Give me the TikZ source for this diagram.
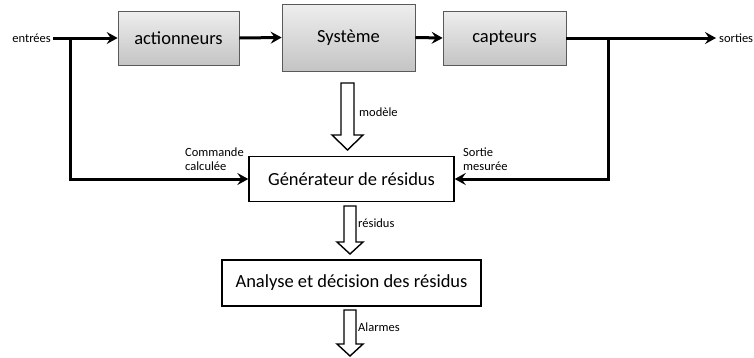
\documentclass[tikz,border=0pt]{standalone}
\usepackage{fontspec}
\setmainfont{Carlito}
\usetikzlibrary{arrows.meta}
\begin{document}
\begin{tikzpicture}[x=1pt,y=-1pt,
  graybox/.style={draw={rgb,255:red,90;green,90;blue,90}, line width=0.7pt,
    top color={rgb,255:red,238;green,238;blue,238},
    bottom color={rgb,255:red,196;green,196;blue,196},
    inner sep=0pt, font=\fontsize{18.5}{20}\selectfont},
  whitebox/.style={draw=black, line width=1.4pt, fill=white, inner sep=0pt,
    font=\fontsize{18.5}{20}\selectfont},
  small/.style={font=\fontsize{12.5}{14}\selectfont, inner sep=0pt},
  flow/.style={line width=3pt, -{Stealth[length=11pt,width=12pt,inset=4pt]}},
  hollow/.style={draw=black, line width=1.4pt, fill=white, line join=miter}]
\useasboundingbox (0,0) rectangle (754,357);

% process chain
\node[graybox, minimum width=121pt, minimum height=54pt] (act) at (178.5,38) {actionneurs};
\node[graybox, minimum width=133pt, minimum height=67pt] (sys) at (348.5,37.5) {Système};
\node[graybox, minimum width=123pt, minimum height=54pt] (cap) at (504.5,38) {capteurs};
\node[small, anchor=east] (in) at (51,38) {entrées};
\node[small, anchor=west] (out) at (719,38) {sorties};

% diagnosis blocks
\node[whitebox, minimum width=205pt, minimum height=45pt] (gen) at (351.5,179) {Générateur de résidus};
\node[whitebox, minimum width=259pt, minimum height=46pt] (ana) at (351.5,283) {Analyse et décision des résidus};

% branch points
\coordinate (jl) at (70,38);
\coordinate (jr) at (608,38);

% signal lines
\draw[flow] ([xshift=2pt]in.east) -- (act.west);
\draw[flow] (act.east) -- (sys.west);
\draw[flow] (sys.east) -- (cap.west);
\draw[flow] (cap.east) -- ([xshift=-3pt]out.west);
\draw[flow] (jl) |- (gen.west);
\draw[flow] (jr) |- (gen.east);

% line labels
\node[small, anchor=south west, align=left] (cmd) at (185,171) {Commande\\calculée};
\node[small, anchor=south west, align=left] (mes) at (463,171) {Sortie\\mesurée};

% block arrows
\draw[hollow] (341,83) -- (354,83) -- (354,135) -- (363,135) -- (347.5,150)
  -- (332,135) -- (341,135) -- cycle;
\node[small, anchor=west] (lmod) at (359,112) {modèle};
\draw[hollow] (344,206) -- (356,206) -- (356,242) -- (363,242) -- (350,254)
  -- (337,242) -- (344,242) -- cycle;
\node[small, anchor=west] (lres) at (358,223) {résidus};
\draw[hollow] (344,310) -- (356,310) -- (356,344) -- (363,344) -- (350,356)
  -- (337,344) -- (344,344) -- cycle;
\node[small, anchor=west] (lal) at (358,327) {Alarmes};
\end{tikzpicture}
\end{document}
